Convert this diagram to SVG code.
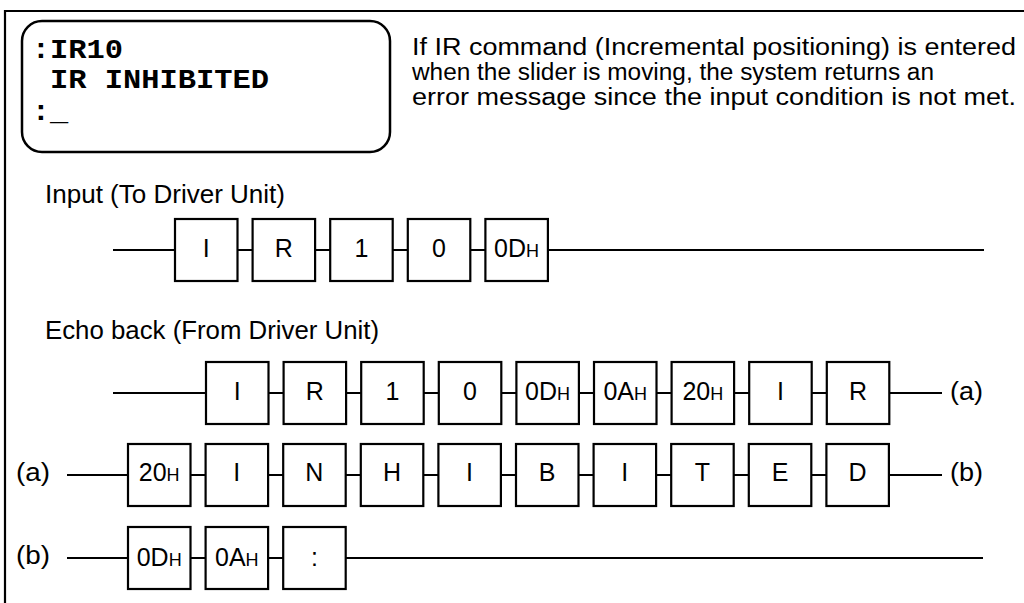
<svg xmlns="http://www.w3.org/2000/svg" width="1024" height="603" viewBox="0 0 1024 603">
<style>
  .frame{fill:none;stroke:#000;stroke-width:2.2}
  .bx{fill:#fff;stroke:#000;stroke-width:2.2}
  .ln{stroke:#000;stroke-width:2;fill:none}
  .t{font-family:"Liberation Sans",Arial,sans-serif;font-size:25px;fill:#000}
  .p{font-family:"Liberation Sans",Arial,sans-serif;font-size:23px;fill:#000}
  .c{font-family:"Liberation Sans",Arial,sans-serif;font-size:25px;fill:#000;text-anchor:middle}
  .h{font-size:18px}
  .m{font-family:"Liberation Mono","Courier New",monospace;font-weight:bold;font-size:27px;fill:#000}
</style>
<rect width="1024" height="603" fill="#fff"/>
<g id="frame">
  <path class="frame" d="M5,603 V11 H1024"/>
</g>
<g id="terminal">
  <rect x="22" y="21" width="368" height="131" rx="20" ry="20" fill="#fff" stroke="#000" stroke-width="2.5"/>
  <text class="m" x="31.7" y="58" textLength="91.3" lengthAdjust="spacingAndGlyphs">:IR10</text>
  <text class="m" x="49.9" y="88" textLength="219" lengthAdjust="spacingAndGlyphs">IR INHIBITED</text>
  <text class="m" x="31.7" y="120" textLength="36.5" lengthAdjust="spacingAndGlyphs">:_</text>
</g>
<g id="note">
  <text class="p" x="412" y="55" textLength="604" lengthAdjust="spacingAndGlyphs">If IR command (Incremental positioning) is entered</text>
  <text class="p" x="412" y="80" textLength="522" lengthAdjust="spacingAndGlyphs">when the slider is moving, the system returns an</text>
  <text class="p" x="412" y="105" textLength="604" lengthAdjust="spacingAndGlyphs">error message since the input condition is not met.</text>
</g>
<g id="labels">
  <text class="t" x="45" y="203" textLength="240" lengthAdjust="spacingAndGlyphs">Input (To Driver Unit)</text>
  <text class="t" x="45" y="339" textLength="334" lengthAdjust="spacingAndGlyphs">Echo back (From Driver Unit)</text>
  <text class="t" x="950" y="400" textLength="33" lengthAdjust="spacingAndGlyphs">(a)</text>
  <text class="t" x="16" y="481" textLength="34" lengthAdjust="spacingAndGlyphs">(a)</text>
  <text class="t" x="950" y="481" textLength="33" lengthAdjust="spacingAndGlyphs">(b)</text>
  <text class="t" x="16" y="564" textLength="34" lengthAdjust="spacingAndGlyphs">(b)</text>
</g>
<g id="connectors">
  <line class="ln" x1="113" y1="250" x2="984" y2="250"/>
  <line class="ln" x1="113" y1="393" x2="942" y2="393"/>
  <line class="ln" x1="67" y1="475" x2="942" y2="475"/>
  <line class="ln" x1="67" y1="558" x2="983" y2="558"/>
</g>
<g id="input-row">
  <g id="in1"><rect class="bx" x="175" y="219" width="62.5" height="62"/><text class="c" x="206.2" y="257">I</text></g>
  <g id="in2"><rect class="bx" x="252.6" y="219" width="62.5" height="62"/><text class="c" x="283.8" y="257">R</text></g>
  <g id="in3"><rect class="bx" x="330.2" y="219" width="62.5" height="62"/><text class="c" x="361.4" y="257">1</text></g>
  <g id="in4"><rect class="bx" x="407.8" y="219" width="62.5" height="62"/><text class="c" x="439" y="257">0</text></g>
  <g id="in5"><rect class="bx" x="485.4" y="219" width="62.5" height="62"/><text class="c" x="516.6" y="257">0D<tspan class="h">H</tspan></text></g>
</g>
<g id="echo-row1">
  <g id="e1"><rect class="bx" x="206" y="362" width="62.5" height="62"/><text class="c" x="237.2" y="400">I</text></g>
  <g id="e2"><rect class="bx" x="283.6" y="362" width="62.5" height="62"/><text class="c" x="314.8" y="400">R</text></g>
  <g id="e3"><rect class="bx" x="361.2" y="362" width="62.5" height="62"/><text class="c" x="392.4" y="400">1</text></g>
  <g id="e4"><rect class="bx" x="438.8" y="362" width="62.5" height="62"/><text class="c" x="470" y="400">0</text></g>
  <g id="e5"><rect class="bx" x="516.4" y="362" width="62.5" height="62"/><text class="c" x="547.6" y="400">0D<tspan class="h">H</tspan></text></g>
  <g id="e6"><rect class="bx" x="594" y="362" width="62.5" height="62"/><text class="c" x="625.2" y="400">0A<tspan class="h">H</tspan></text></g>
  <g id="e7"><rect class="bx" x="671.6" y="362" width="62.5" height="62"/><text class="c" x="702.8" y="400">20<tspan class="h">H</tspan></text></g>
  <g id="e8"><rect class="bx" x="749.2" y="362" width="62.5" height="62"/><text class="c" x="780.4" y="400">I</text></g>
  <g id="e9"><rect class="bx" x="826.8" y="362" width="62.5" height="62"/><text class="c" x="858" y="400">R</text></g>
</g>
<g id="echo-row2">
  <g id="f1"><rect class="bx" x="128" y="444" width="62.5" height="62"/><text class="c" x="159.2" y="481">20<tspan class="h">H</tspan></text></g>
  <g id="f2"><rect class="bx" x="205.6" y="444" width="62.5" height="62"/><text class="c" x="236.8" y="481">I</text></g>
  <g id="f3"><rect class="bx" x="283.2" y="444" width="62.5" height="62"/><text class="c" x="314.4" y="481">N</text></g>
  <g id="f4"><rect class="bx" x="360.8" y="444" width="62.5" height="62"/><text class="c" x="392" y="481">H</text></g>
  <g id="f5"><rect class="bx" x="438.4" y="444" width="62.5" height="62"/><text class="c" x="469.6" y="481">I</text></g>
  <g id="f6"><rect class="bx" x="516" y="444" width="62.5" height="62"/><text class="c" x="547.2" y="481">B</text></g>
  <g id="f7"><rect class="bx" x="593.6" y="444" width="62.5" height="62"/><text class="c" x="624.8" y="481">I</text></g>
  <g id="f8"><rect class="bx" x="671.2" y="444" width="62.5" height="62"/><text class="c" x="702.4" y="481">T</text></g>
  <g id="f9"><rect class="bx" x="748.8" y="444" width="62.5" height="62"/><text class="c" x="780" y="481">E</text></g>
  <g id="f10"><rect class="bx" x="826.4" y="444" width="62.5" height="62"/><text class="c" x="857.6" y="481">D</text></g>
</g>
<g id="echo-row3">
  <g id="g1"><rect class="bx" x="128" y="527" width="62.5" height="62"/><text class="c" x="159.2" y="566">0D<tspan class="h">H</tspan></text></g>
  <g id="g2"><rect class="bx" x="205.6" y="527" width="62.5" height="62"/><text class="c" x="236.8" y="566">0A<tspan class="h">H</tspan></text></g>
  <g id="g3"><rect class="bx" x="283.2" y="527" width="62.5" height="62"/><text class="c" x="314.4" y="566">:</text></g>
</g>
</svg>
